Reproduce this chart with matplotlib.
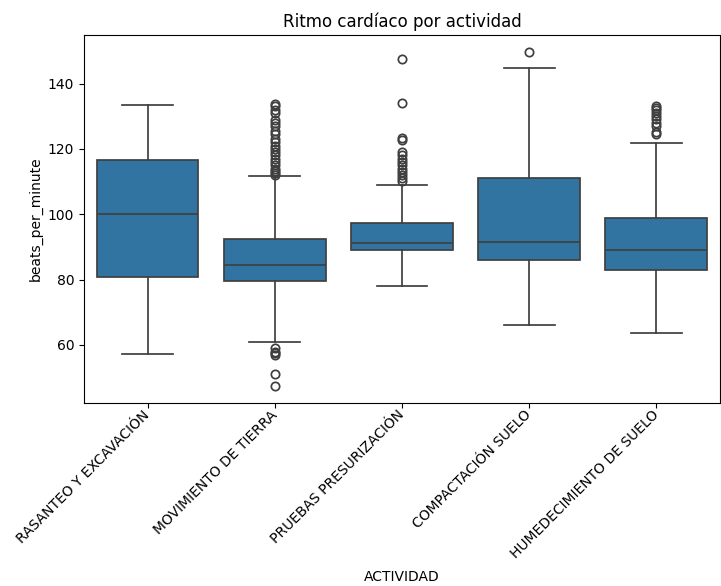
import matplotlib
matplotlib.use("Agg")
import matplotlib.pyplot as plt
import matplotlib.transforms as mtransforms

# Heart rate summary per activity (beats per minute)
actividades = [
    "RASANTEO Y EXCAVACIÓN",
    "MOVIMIENTO DE TIERRA",
    "PRUEBAS PRESURIZACIÓN",
    "COMPACTACIÓN SUELO",
    "HUMEDECIMIENTO DE SUELO",
]
q1 = [80.7, 79.5, 89.0, 86.0, 82.8]
mediana = [100.2, 84.4, 91.2, 91.5, 89.0]
q3 = [116.6, 92.3, 97.3, 111.1, 98.8]
bigote_inf = [57.2, 60.9, 78.2, 66.1, 63.7]
bigote_sup = [133.4, 111.7, 109.0, 144.8, 121.9]
atipicos = [
    [],
    [112.0, 112.5, 113.2, 114.0, 115.0, 116.0, 117.0, 118.0, 119.0, 120.0,
     121.0, 122.0, 123.0, 124.5, 125.5, 127.0, 128.0, 128.8, 131.0, 132.0,
     133.0, 133.6,
     59.0, 58.0, 57.4, 57.0, 51.1, 47.4],
    [147.5, 134.0, 123.2, 122.8, 119.0, 118.0, 117.0, 116.0, 115.0, 114.0,
     113.0, 112.0, 111.0, 110.3],
    [149.7],
    [124.6, 125.3, 127.0, 128.0, 129.0, 130.0, 131.0, 131.8, 132.4, 133.0],
]

stats = []
for i, nombre in enumerate(actividades):
    stats.append(dict(
        label=nombre, med=mediana[i], q1=q1[i], q3=q3[i],
        whislo=bigote_inf[i], whishi=bigote_sup[i], fliers=atipicos[i],
    ))

fig = plt.figure(figsize=(7.21, 5.86), dpi=100)
ax = fig.add_axes([0.1165, 0.312, 0.882, 0.628])

linea = "#3f3f3f"
lw = 1.25
ax.bxp(
    stats, positions=range(len(actividades)), widths=0.8,
    patch_artist=True, showfliers=True,
    boxprops=dict(facecolor="#3274a1", edgecolor=linea, linewidth=lw),
    medianprops=dict(color=linea, linewidth=lw),
    whiskerprops=dict(color=linea, linewidth=lw),
    capprops=dict(color=linea, linewidth=lw),
    capwidths=0.4,
    flierprops=dict(marker="o", markerfacecolor="none", markeredgecolor=linea,
                    markersize=6, markeredgewidth=lw),
)

ax.set_xlim(-0.5, len(actividades) - 0.5)
ax.set_ylim(42.2, 154.8)
ax.set_yticks([60, 80, 100, 120, 140])
ax.set_xticks(range(len(actividades)))
ax.set_xticklabels(actividades, rotation=45, ha="right")

# nudge the rotated category labels slightly right and up
desplazamiento = mtransforms.ScaledTranslation(0.05, 0.05, fig.dpi_scale_trans)
for etiqueta in ax.get_xticklabels():
    etiqueta.set_transform(etiqueta.get_transform() + desplazamiento)

ax.set_title("Ritmo cardíaco por actividad", fontsize=12)
ax.set_xlabel("ACTIVIDAD", labelpad=6)
ax.set_ylabel("beats_per_minute")

fig.savefig("out.png", dpi=100)
